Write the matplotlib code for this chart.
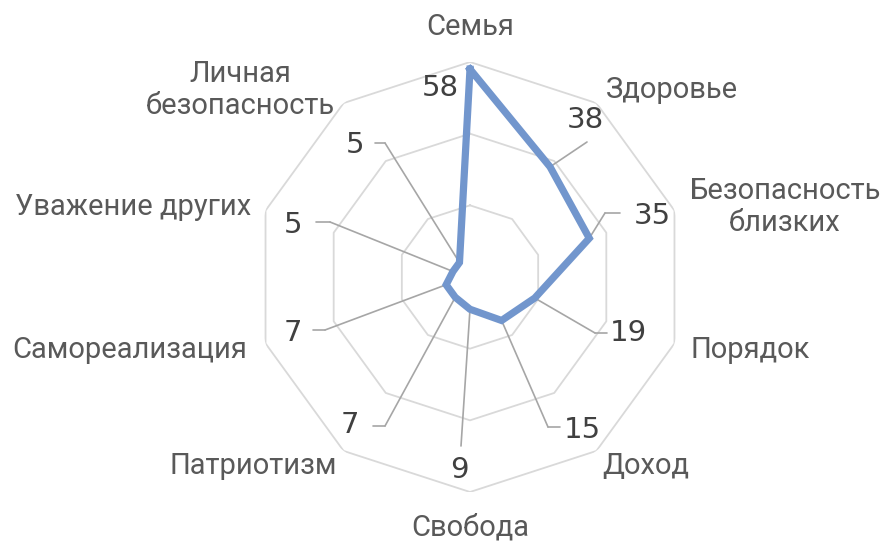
import numpy as np
import matplotlib.pyplot as plt

categories = ['Семья', 'Здоровье', 'Безопасность\nблизких', 'Порядок', 'Доход',
              'Свобода', 'Патриотизм', 'Самореализация', 'Уважение других',
              'Личная\nбезопасность']
values = [58, 38, 35, 19, 15, 9, 7, 7, 5, 5]
rings = [20, 40, 60]

W, H = 884, 543
CX, CY, R = 470, 277, 215

# label layout in image pixels (top-left origin)
cat_pos = [(470, 27), (672, 90), (785, 207), (750, 350), (646, 466),
           (470, 527), (253, 466), (130, 350), (133, 207), (240, 90)]
# data label centre, elbow of leader, stub end (None = no leader)
lab_pos = [(440, 88), (585, 120), (652, 216), (628, 333), (582, 430),
           (459, 470), (350, 425), (293, 333), (293, 225), (355, 145)]
elbows = [None, (587, 142), (605, 213), (595, 333), (548, 427),
          (461, 446), (385, 426), (325, 330), (330, 222), (385, 143)]
stubs = [None, None, (620, 213), (607, 333), (560, 427),
         None, (373, 426), (313, 330), (316, 222), (375, 143)]

plt.rcParams['font.family'] = ['Roboto', 'DejaVu Sans']

fig = plt.figure(figsize=(W / 100, H / 100), dpi=100)
ax = fig.add_axes([(CX - R) / W, (H - CY - R) / H, 2 * R / W, 2 * R / H], polar=True)
ax.set_theta_zero_location('N')
ax.set_theta_direction(-1)
ax.set_ylim(0, 60)
ax.axis('off')

n = len(categories)
theta = np.arange(n) * 2 * np.pi / n
th_closed = np.append(theta, theta[0])

for r in rings:
    ax.plot(th_closed, [r] * (n + 1), color='#d9d9d9', lw=1.3, zorder=1)

ax.plot(th_closed, values + values[:1], color='#7296cd', lw=5.2,
        solid_joinstyle='miter', zorder=3)


def fp(p):
    return (p[0], H - p[1])


for i in range(n):
    fig.text(cat_pos[i][0] / W, 1 - cat_pos[i][1] / H, categories[i],
             ha='center', va='center', fontsize=21, color='#595959',
             linespacing=1.22)
    if elbows[i] is not None:
        ax.annotate('', xy=(theta[i], values[i]), xycoords='data',
                    xytext=fp(elbows[i]), textcoords='figure pixels',
                    arrowprops=dict(arrowstyle='-', color='#a6a6a6', lw=1.2,
                                    shrinkA=0, shrinkB=0), zorder=2)
    if stubs[i] is not None:
        ax.annotate('', xy=fp(elbows[i]), xycoords='figure pixels',
                    xytext=fp(stubs[i]), textcoords='figure pixels',
                    arrowprops=dict(arrowstyle='-', color='#a6a6a6', lw=1.2,
                                    shrinkA=0, shrinkB=0), zorder=2)
    fig.text(lab_pos[i][0] / W, 1 - lab_pos[i][1] / H, str(values[i]),
             ha='center', va='center', fontsize=21, color='#404040',
             family=['DejaVu Sans'])

fig.savefig('out.png', dpi=100)
